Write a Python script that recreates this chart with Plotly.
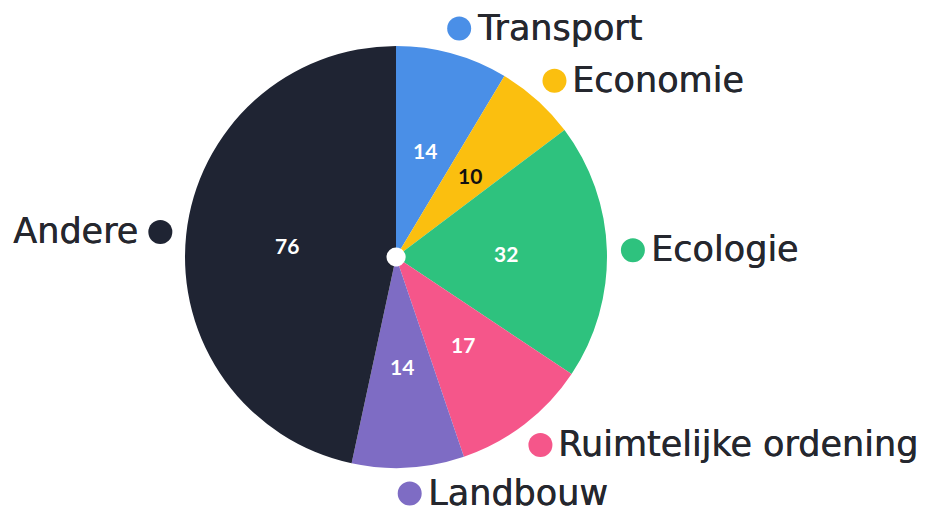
import math
import plotly.graph_objects as go

categories = ["Transport", "Economie", "Ecologie", "Ruimtelijke ordening", "Landbouw", "Andere"]
values = [14, 10, 32, 17, 14, 76]
colors = ["#4a8fe7", "#fbbf0f", "#2ec27e", "#f5568a", "#7e6cc4", "#1f2433"]
text_colors = ["white", "#111111", "white", "white", "white", "white"]

W, H = 927, 510
OFF = 8  # page body margin
CX, CY, R = 396 - OFF, 257 - OFF, 211
R_LABEL = 237
R_VALUE = 110

fig = go.Figure()
fig.add_trace(go.Pie(
    labels=categories, values=values, sort=False, direction="clockwise", rotation=0,
    marker=dict(colors=colors, line=dict(width=0)),
    textinfo="none", hoverinfo="label+value",
    hole=0.045, showlegend=False,
    domain=dict(x=[(CX - R) / W, (CX + R) / W], y=[1 - (CY + R) / H, 1 - (CY - R) / H]),
))

total = sum(values)
cum = 0
shapes = []
annotations = []
for cat, v, col, tc in zip(categories, values, colors, text_colors):
    mid = (cum + v / 2) / total * 2 * math.pi
    cum += v
    s, c = math.sin(mid), math.cos(mid)
    # value label inside slice
    vx, vy = CX + R_VALUE * s, CY - R_VALUE * c
    annotations.append(dict(text=str(v), xref="paper", yref="paper", x=vx / W, y=1 - vy / H,
                            xanchor="center", yanchor="middle", showarrow=False,
                            font=dict(family="Lato", size=21, color=tc, weight="bold")))
    # outer label dot + text
    px, py = CX + R_LABEL * s, CY - R_LABEL * c
    xp, yp = px / W, 1 - py / H
    shapes.append(dict(type="circle", xref="paper", yref="paper", xsizemode="pixel", ysizemode="pixel",
                       xanchor=xp, yanchor=yp, x0=-12, x1=12, y0=-12, y1=12,
                       fillcolor=col, line=dict(width=0)))
    right = s >= 0
    annotations.append(dict(text=cat, xref="paper", yref="paper", x=xp, y=yp,
                            xanchor="left" if right else "right", yanchor="middle",
                            xshift=16 if right else -20, yshift=1, showarrow=False,
                            font=dict(family="DejaVu Sans", size=35, color="#25272e",
                                      shadow="0.5px 0 0 #25272e")))

fig.update_layout(width=W, height=H, margin=dict(l=0, r=0, t=0, b=0),
                  paper_bgcolor="white", plot_bgcolor="white",
                  shapes=shapes, annotations=annotations)
fig.write_html("out.html")
